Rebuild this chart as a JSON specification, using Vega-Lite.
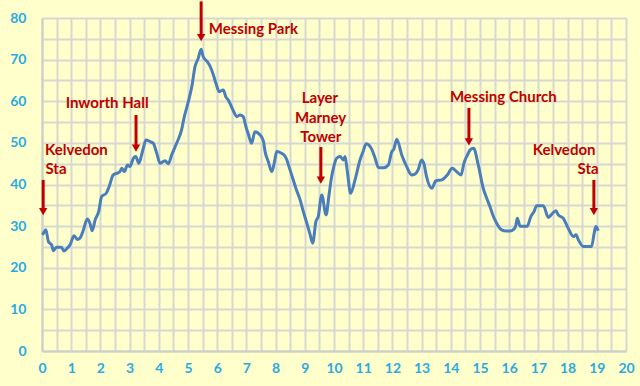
{
  "$schema": "https://vega.github.io/schema/vega-lite/v6.json",
  "width": 584,
  "height": 333,
  "autosize": "none",
  "padding": {"left": 42, "top": 18, "right": 14, "bottom": 35},
  "background": "#FFFFCC",
  "config": {
    "view": {"stroke": null},
    "axis": {
      "labelFont": "Lato",
      "labelFontWeight": "bold",
      "labelFontSize": 14,
      "labelColor": "#2AAAE2",
      "ticks": false,
      "tickSize": 0,
      "domainColor": "#CFCFCA",
      "domainWidth": 2,
      "grid": true,
      "gridColor": "#D8D8D2",
      "gridWidth": 2,
      "gridOpacity": 1,
      "labelOverlap": false,
      "labelFlush": false
    }
  },
  "datasets": {
    "profile": [
      {"x": 0.0, "y": 28.0}, {"x": 0.05, "y": 28.3}, {"x": 0.13, "y": 29.1}, {"x": 0.22, "y": 26.3},
      {"x": 0.27, "y": 25.9}, {"x": 0.33, "y": 25.5}, {"x": 0.39, "y": 24.1}, {"x": 0.5, "y": 24.9},
      {"x": 0.67, "y": 24.9}, {"x": 0.75, "y": 24.0}, {"x": 0.85, "y": 24.6}, {"x": 0.96, "y": 25.5},
      {"x": 1.1, "y": 27.7}, {"x": 1.21, "y": 26.8}, {"x": 1.3, "y": 27.1}, {"x": 1.41, "y": 28.9},
      {"x": 1.55, "y": 31.7}, {"x": 1.64, "y": 30.7}, {"x": 1.72, "y": 28.9}, {"x": 1.82, "y": 31.5},
      {"x": 1.95, "y": 33.7}, {"x": 2.04, "y": 37.1}, {"x": 2.2, "y": 37.9}, {"x": 2.3, "y": 39.5},
      {"x": 2.44, "y": 42.3}, {"x": 2.6, "y": 42.8}, {"x": 2.67, "y": 43.1}, {"x": 2.73, "y": 43.9},
      {"x": 2.82, "y": 43.1}, {"x": 2.93, "y": 44.7}, {"x": 3.01, "y": 44.3}, {"x": 3.13, "y": 46.3},
      {"x": 3.21, "y": 46.7}, {"x": 3.32, "y": 45.1}, {"x": 3.41, "y": 47.1}, {"x": 3.48, "y": 49.0},
      {"x": 3.56, "y": 50.7}, {"x": 3.7, "y": 50.3}, {"x": 3.81, "y": 49.9}, {"x": 3.93, "y": 47.5},
      {"x": 4.04, "y": 45.1}, {"x": 4.21, "y": 45.7}, {"x": 4.33, "y": 45.0}, {"x": 4.44, "y": 47.1},
      {"x": 4.61, "y": 49.9}, {"x": 4.78, "y": 53.1}, {"x": 4.88, "y": 56.5}, {"x": 4.95, "y": 58.3},
      {"x": 5.05, "y": 61.0}, {"x": 5.13, "y": 63.5}, {"x": 5.24, "y": 68.3}, {"x": 5.35, "y": 70.3},
      {"x": 5.45, "y": 72.5}, {"x": 5.52, "y": 70.7}, {"x": 5.66, "y": 69.5}, {"x": 5.75, "y": 68.5},
      {"x": 5.87, "y": 66.3}, {"x": 5.97, "y": 64.0}, {"x": 6.07, "y": 62.3}, {"x": 6.21, "y": 62.7},
      {"x": 6.3, "y": 61.0}, {"x": 6.38, "y": 60.3}, {"x": 6.5, "y": 58.5}, {"x": 6.6, "y": 57.0},
      {"x": 6.67, "y": 56.3}, {"x": 6.78, "y": 56.7}, {"x": 6.89, "y": 56.3}, {"x": 6.98, "y": 54.0},
      {"x": 7.07, "y": 52.0}, {"x": 7.18, "y": 49.9}, {"x": 7.29, "y": 52.7}, {"x": 7.47, "y": 51.9},
      {"x": 7.58, "y": 50.5}, {"x": 7.64, "y": 47.9}, {"x": 7.75, "y": 45.5}, {"x": 7.87, "y": 43.1},
      {"x": 7.95, "y": 45.0}, {"x": 8.04, "y": 47.9}, {"x": 8.2, "y": 47.5}, {"x": 8.3, "y": 47.0},
      {"x": 8.38, "y": 46.0}, {"x": 8.45, "y": 44.5}, {"x": 8.55, "y": 42.3}, {"x": 8.7, "y": 39.0},
      {"x": 8.84, "y": 36.3}, {"x": 8.95, "y": 33.5}, {"x": 9.07, "y": 30.7}, {"x": 9.18, "y": 28.0},
      {"x": 9.27, "y": 25.9}, {"x": 9.38, "y": 31.1}, {"x": 9.46, "y": 32.3}, {"x": 9.58, "y": 37.5},
      {"x": 9.73, "y": 32.7}, {"x": 9.82, "y": 37.0}, {"x": 9.92, "y": 41.9}, {"x": 10.0, "y": 44.5},
      {"x": 10.09, "y": 46.3}, {"x": 10.21, "y": 46.7}, {"x": 10.32, "y": 45.9}, {"x": 10.38, "y": 46.7},
      {"x": 10.45, "y": 43.5}, {"x": 10.57, "y": 37.9}, {"x": 10.72, "y": 41.1}, {"x": 10.89, "y": 45.9},
      {"x": 11.0, "y": 48.0}, {"x": 11.1, "y": 49.8}, {"x": 11.29, "y": 48.5}, {"x": 11.4, "y": 46.5},
      {"x": 11.52, "y": 44.1}, {"x": 11.69, "y": 44.0}, {"x": 11.86, "y": 44.7}, {"x": 11.98, "y": 47.9},
      {"x": 12.05, "y": 48.5}, {"x": 12.15, "y": 50.9}, {"x": 12.32, "y": 47.1}, {"x": 12.49, "y": 44.3},
      {"x": 12.66, "y": 42.3}, {"x": 12.77, "y": 42.5}, {"x": 12.88, "y": 43.5}, {"x": 13.0, "y": 45.9},
      {"x": 13.08, "y": 45.0}, {"x": 13.17, "y": 41.9}, {"x": 13.35, "y": 39.1}, {"x": 13.49, "y": 40.9},
      {"x": 13.69, "y": 41.1}, {"x": 13.88, "y": 42.3}, {"x": 14.05, "y": 43.9}, {"x": 14.2, "y": 43.1},
      {"x": 14.35, "y": 42.3}, {"x": 14.45, "y": 45.1}, {"x": 14.6, "y": 47.5}, {"x": 14.66, "y": 48.3},
      {"x": 14.78, "y": 48.7}, {"x": 14.94, "y": 44.7}, {"x": 15.11, "y": 39.1}, {"x": 15.23, "y": 36.7},
      {"x": 15.34, "y": 34.7}, {"x": 15.45, "y": 32.5}, {"x": 15.57, "y": 30.7}, {"x": 15.74, "y": 29.1},
      {"x": 15.9, "y": 28.8}, {"x": 16.03, "y": 28.8}, {"x": 16.15, "y": 29.2}, {"x": 16.22, "y": 30.0},
      {"x": 16.28, "y": 31.9}, {"x": 16.37, "y": 30.0}, {"x": 16.62, "y": 30.0}, {"x": 16.74, "y": 32.3},
      {"x": 16.85, "y": 33.5}, {"x": 16.94, "y": 34.9}, {"x": 17.17, "y": 34.9}, {"x": 17.34, "y": 32.1},
      {"x": 17.46, "y": 32.9}, {"x": 17.6, "y": 33.7}, {"x": 17.68, "y": 32.7}, {"x": 17.85, "y": 31.9},
      {"x": 18.02, "y": 29.5}, {"x": 18.2, "y": 27.5}, {"x": 18.29, "y": 27.9}, {"x": 18.37, "y": 26.7},
      {"x": 18.54, "y": 25.1}, {"x": 18.82, "y": 25.1}, {"x": 18.91, "y": 28.3}, {"x": 18.97, "y": 29.9},
      {"x": 19.05, "y": 28.9}
    ],
    "arrows": [
      {"x": 0.04, "y": 32.5, "top": 41.1},
      {"x": 3.22, "y": 47.8, "top": 56.7},
      {"x": 5.45, "y": 74.3, "top": 84.0},
      {"x": 9.55, "y": 40.1, "top": 49.0},
      {"x": 14.62, "y": 49.3, "top": 58.4},
      {"x": 18.9, "y": 32.5, "top": 41.1}
    ],
    "labels": [
      {"label": "Kelvedon", "x": 1.18, "y": 48.3},
      {"label": "Sta", "x": 0.48, "y": 43.75},
      {"label": "Inworth Hall", "x": 2.23, "y": 59.6},
      {"label": "Messing Park", "x": 7.24, "y": 77.4},
      {"label": "Layer", "x": 9.52, "y": 60.8},
      {"label": "Marney", "x": 9.54, "y": 56.0},
      {"label": "Tower", "x": 9.55, "y": 51.4},
      {"label": "Messing Church", "x": 15.8, "y": 61.1},
      {"label": "Kelvedon", "x": 17.88, "y": 48.3},
      {"label": "Sta", "x": 18.7, "y": 43.75}
    ]
  },
  "encoding": {
    "x": {
      "field": "x", "type": "quantitative", "title": null,
      "scale": {"domain": [0, 20], "nice": false, "zero": false},
      "axis": {
        "values": [0, 0.5, 1, 1.5, 2, 2.5, 3, 3.5, 4, 4.5, 5, 5.5, 6, 6.5, 7, 7.5, 8, 8.5, 9, 9.5, 10, 10.5, 11, 11.5, 12, 12.5, 13, 13.5, 14, 14.5, 15, 15.5, 16, 16.5, 17, 17.5, 18, 18.5, 19, 19.5, 20],
        "labelExpr": "datum.value % 1 === 0 ? format(datum.value, 'd') : ''",
        "labelPadding": 10
      }
    },
    "y": {
      "field": "y", "type": "quantitative", "title": null,
      "scale": {"domain": [0, 80], "nice": false},
      "axis": {
        "values": [0, 5, 10, 15, 20, 25, 30, 35, 40, 45, 50, 55, 60, 65, 70, 75, 80],
        "labelExpr": "datum.value % 10 === 0 ? format(datum.value, 'd') : ''",
        "labelPadding": 16
      }
    }
  },
  "layer": [
    {
      "data": {"name": "profile"},
      "mark": {"type": "line", "color": "#4A7EBB", "strokeWidth": 3, "interpolate": "monotone"}
    },
    {
      "data": {"name": "arrows"},
      "mark": {"type": "rule", "color": "#C00000", "strokeWidth": 3, "clip": false, "yOffset": -6},
      "encoding": {
        "y2": {"field": "top"}
      }
    },
    {
      "data": {"name": "arrows"},
      "mark": {"type": "point", "shape": "triangle-down", "filled": true, "color": "#C00000", "opacity": 1, "size": 70, "yOffset": -4, "strokeWidth": 0}
    },
    {
      "data": {"name": "labels"},
      "mark": {"type": "text", "font": "Lato", "fontWeight": "bold", "fontSize": 15, "color": "#C00000", "align": "center", "baseline": "middle"},
      "encoding": {
        "text": {"field": "label"}
      }
    }
  ]
}
